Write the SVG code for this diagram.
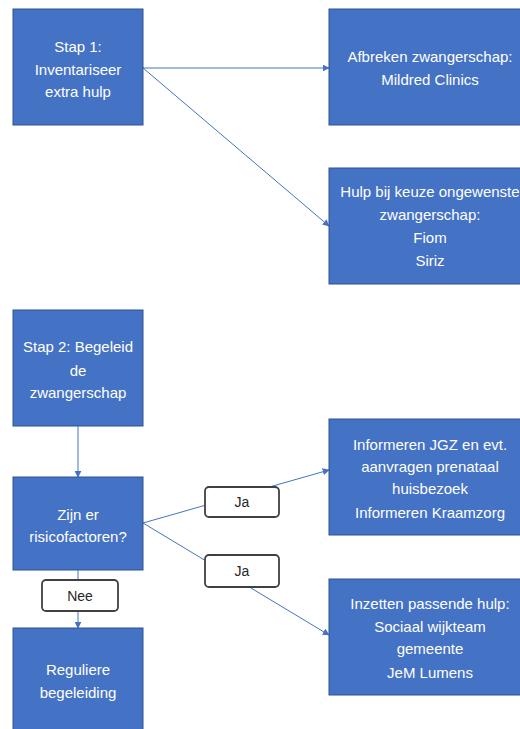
<svg xmlns="http://www.w3.org/2000/svg" width="520" height="729" viewBox="0 0 520 729">
<defs>
<marker id="arr" viewBox="0 0 10 10" refX="9" refY="5" markerWidth="7" markerHeight="7" markerUnits="userSpaceOnUse" orient="auto">
<path d="M0,0 L10,5 L0,10 z" fill="#4472C4"/>
</marker>
<style>
.box{fill:#4472C4;stroke:#2F528F;stroke-width:1}
.t{font-family:"Liberation Sans",Arial,sans-serif;font-size:15px;fill:#ffffff;text-anchor:middle}
.edge{stroke:#4472C4;stroke-width:1;fill:none;marker-end:url(#arr)}
.lbl{fill:#ffffff;stroke:#404040;stroke-width:1.8}
.lt{font-family:"Liberation Sans",Arial,sans-serif;font-size:14px;fill:#262626;text-anchor:middle}
</style>
</defs>
<rect width="520" height="729" fill="#ffffff"/>
<g id="connectors">
<path class="edge" d="M143,68 L329,68"/>
<path class="edge" d="M143,68 L329,226"/>
<path class="edge" d="M78,426 L78,477"/>
<path class="edge" d="M143,523 L329,470"/>
<path class="edge" d="M143,523 L329,635"/>
<path class="edge" d="M78,570 L78,628"/>
</g>
<g id="stap1">
<rect class="box" x="13" y="9" width="130" height="116"/>
<text class="t" x="78" y="52">Stap 1:</text>
<text class="t" x="78" y="75">Inventariseer</text>
<text class="t" x="78" y="97">extra hulp</text>
</g>
<g id="afbreken">
<rect class="box" x="329" y="9" width="202" height="116"/>
<text class="t" x="430" y="62">Afbreken zwangerschap:</text>
<text class="t" x="430" y="85">Mildred Clinics</text>
</g>
<g id="hulp">
<rect class="box" x="329" y="168" width="202" height="116"/>
<text class="t" x="430" y="197">Hulp bij keuze ongewenste</text>
<text class="t" x="430" y="220">zwangerschap:</text>
<text class="t" x="430" y="243">Fiom</text>
<text class="t" x="430" y="266">Siriz</text>
</g>
<g id="stap2">
<rect class="box" x="13" y="310" width="130" height="116"/>
<text class="t" x="78" y="352">Stap 2: Begeleid</text>
<text class="t" x="78" y="376">de</text>
<text class="t" x="78" y="398">zwangerschap</text>
</g>
<g id="risico">
<rect class="box" x="13" y="477" width="130" height="93"/>
<text class="t" x="78" y="520">Zijn er</text>
<text class="t" x="78" y="542">risicofactoren?</text>
</g>
<g id="regulier">
<rect class="box" x="13" y="628" width="130" height="116"/>
<text class="t" x="78" y="675">Reguliere</text>
<text class="t" x="78" y="698">begeleiding</text>
</g>
<g id="informeren">
<rect class="box" x="329" y="419" width="202" height="116"/>
<text class="t" x="430" y="450">Informeren JGZ en evt.</text>
<text class="t" x="430" y="472">aanvragen prenataal</text>
<text class="t" x="430" y="494">huisbezoek</text>
<text class="t" x="430" y="518">Informeren Kraamzorg</text>
</g>
<g id="inzetten">
<rect class="box" x="329" y="579" width="202" height="116"/>
<text class="t" x="430" y="609">Inzetten passende hulp:</text>
<text class="t" x="430" y="632">Sociaal wijkteam</text>
<text class="t" x="430" y="654">gemeente</text>
<text class="t" x="430" y="678">JeM Lumens</text>
</g>
<g id="label-nee">
<rect class="lbl" x="42" y="580" width="76" height="31" rx="4"/>
<text class="lt" x="80" y="601">Nee</text>
</g>
<g id="label-ja1">
<rect class="lbl" x="205" y="487" width="74" height="30" rx="4"/>
<text class="lt" x="242" y="507">Ja</text>
</g>
<g id="label-ja2">
<rect class="lbl" x="205" y="555" width="74" height="32" rx="4"/>
<text class="lt" x="242" y="576">Ja</text>
</g>
</svg>
